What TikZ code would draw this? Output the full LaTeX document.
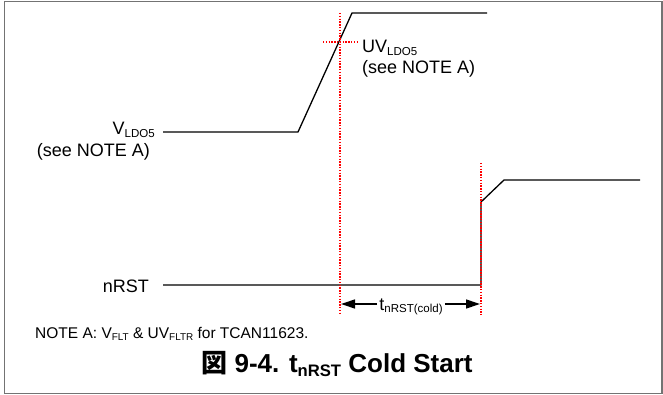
\documentclass[tikz,border=0pt]{standalone}
\usepackage{fontspec}
\setmainfont{Liberation Sans}
\newfontfamily\cjk{Noto Sans CJK JP}
\usepackage{graphicx}
\usetikzlibrary{arrows.meta}
\newcommand\sbs[1]{\raisebox{-0.3ex}{\scalebox{0.64}{#1}}}
\begin{document}
\begin{tikzpicture}[x=1pt,y=-1pt,
  sig/.style={line width=1.3pt,black},
  reddot/.style={red,line width=1.4pt,dash pattern=on 1.4pt off 1.4pt},
  lbl/.style={inner sep=0pt,font=\fontsize{18}{21}\selectfont},
  notetxt/.style={inner sep=0pt,font=\fontsize{15.5}{18}\selectfont},
  captxt/.style={inner sep=0pt,font=\fontsize{26}{29}\selectfont\bfseries},
  framebox/.style={draw=black!55,line width=1.6pt},
  tarrow/.style={line width=1.3pt,-{Triangle[length=14pt,width=9pt]}}]
\useasboundingbox (0,0) rectangle (663,395);
\draw[framebox] (4.5,1.5) -- (662,1.5) -- (662,393.5) -- (4.5,393.5) -- cycle;
% VLDO5 waveform
\coordinate (v0) at (163,132);
\coordinate (v1) at (298,132);
\coordinate (v2) at (352,13);
\coordinate (v3) at (487,13);
\draw[sig] (v0) -- (v1) -- (v2) -- (v3);
% nRST waveform
\coordinate (n0) at (163,285);
\coordinate (n1) at (481,285);
\coordinate (n2) at (481,202);
\coordinate (n3) at (504,180);
\coordinate (n4) at (640,180);
\draw[sig] (n0) -- (n1) -- (n2) -- (n3) -- (n4);
% red markers
\coordinate (r1t) at (340,13);
\coordinate (r1b) at (340,315);
\coordinate (r2t) at (481,163);
\coordinate (r2b) at (481,315);
\coordinate (h1) at (323,42);
\coordinate (h2) at (357,42);
\draw[reddot] (r1t) -- (r1b);
\draw[reddot] (r2t) -- (r2b);
\draw[reddot] (h1) -- (h2);
% labels
\node[lbl,anchor=base east] (vl) at (155,135) {V\sbs{LDO5}};
\node[lbl,anchor=base east] (vn) at (150,157) {(see NOTE A)};
\node[lbl,anchor=base west] (ul) at (362,53) {UV\sbs{LDO5}};
\node[lbl,anchor=base west] (un) at (362,74) {(see NOTE A)};
\node[lbl,anchor=base east] (nl) at (149,292) {nRST};
% timing arrow
\node[lbl,anchor=base,fill=white,inner xsep=2pt] (tl) at (411,310) {t\sbs{nRST(cold)}};
\coordinate (a1) at (341,304);
\coordinate (a2) at (480,304);
\draw[tarrow] (tl.west |- a1) -- (a1);
\draw[tarrow] (tl.east |- a2) -- (a2);
% note and caption
\node[notetxt,anchor=base west] (na) at (35,338) {NOTE A: V\sbs{FLT} \& UV\sbs{FLTR} for TCAN11623.};
\node[captxt,anchor=base] (cp) at (337,372) {{\cjk\bfseries 図} 9-4. t\sbs{nRST} Cold Start};
\end{tikzpicture}
\end{document}
